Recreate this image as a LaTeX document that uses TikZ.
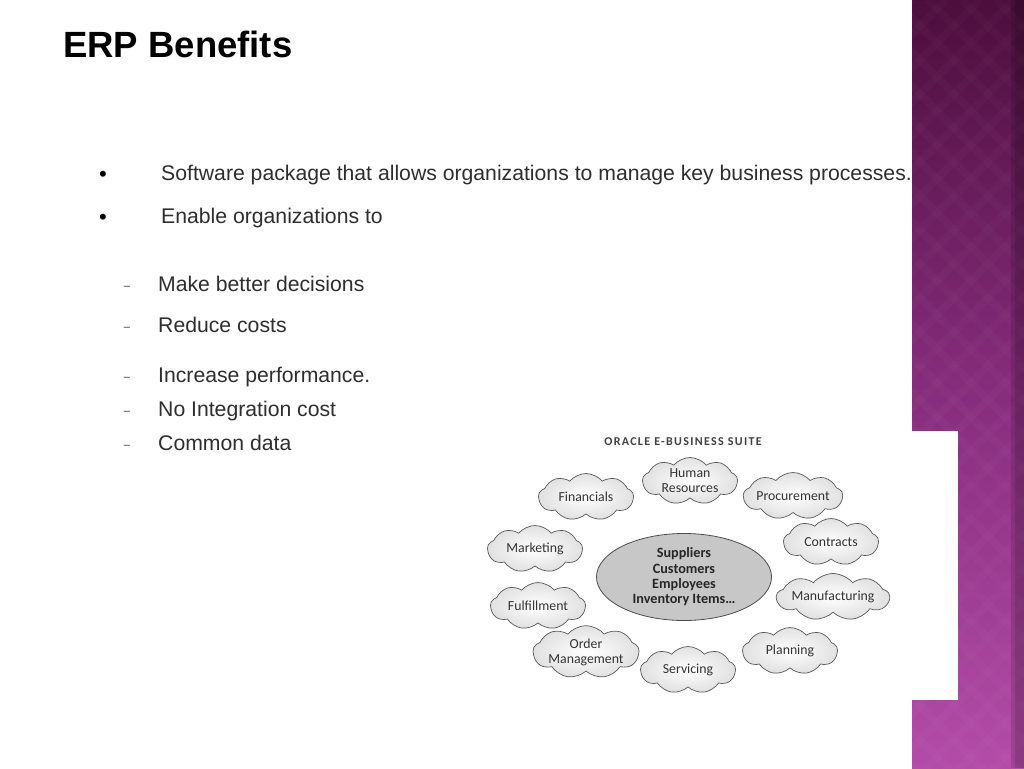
\documentclass[tikz,border=0pt]{standalone}
\usepackage{fontspec}
\setmainfont{Liberation Sans}
\newfontfamily\cloudfont{Carlito}
\usetikzlibrary{shapes.symbols,shapes.geometric}
\definecolor{txt}{HTML}{2E2E2E}
\definecolor{bandtop}{HTML}{4C0E3C}
\definecolor{bandmid}{HTML}{862C7C}
\definecolor{bandbot}{HTML}{B34CA8}
\definecolor{cloudtxt}{HTML}{333333}
\tikzset{
  bodytext/.style={anchor=base west, inner sep=0pt, text=txt, font=\fontsize{21.2}{24}\selectfont},
  bulletmark/.style={anchor=center, inner sep=0pt, text=black, font=\fontsize{22}{24}\selectfont},
  dashmark/.style={anchor=center, inner sep=0pt, text=txt, font=\fontsize{11}{12}\selectfont},
  cloudbox/.style={cloud, cloud puffs=9, cloud puff arc=100, cloud ignores aspect,
    minimum width=95pt, minimum height=47pt, inner sep=0pt,
    draw=black!65, line width=0.7pt, inner color=white, outer color=black!12,
    text=cloudtxt, align=center, font=\cloudfont\fontsize{13.8}{15}\selectfont},
}
\begin{document}
\begin{tikzpicture}[x=1pt,y=-1pt]
\useasboundingbox (0,0) rectangle (1024,768);
\fill[white] (0,0) rectangle (1024,768);
% purple band
\shade[top color=bandtop, bottom color=bandmid] (912,0) rectangle (1024,384);
\shade[top color=bandmid, bottom color=bandbot] (912,384) rectangle (1024,768);
\begin{scope}
\clip (912,0) rectangle (1024,768);
\foreach \k in {-40,...,60} {
  \draw[white, opacity=0.018, line width=8pt] (912+\k*34-800,0) -- (912+\k*34,800);
  \draw[white, opacity=0.018, line width=8pt] (912+\k*34,0) -- (912+\k*34-800,800);
}
\end{scope}
\fill[black, opacity=0.22] (1015,0) rectangle (1024,768);
\fill[black, opacity=0.12] (1011,0) rectangle (1015,768);
% title
\node[anchor=base west, inner sep=0pt, font=\bfseries\fontsize{36.5}{40}\selectfont] (title) at (63,57) {ERP Benefits};
% bullets
\node[bulletmark] (b1) at (103,176) {•};
\node[bodytext] (t1) at (161,180) {Software package that allows organizations to manage key business processes.};
\node[bulletmark] (b2) at (103,219) {•};
\node[bodytext] (t2) at (161,223) {Enable organizations to};
\node[dashmark] (d1) at (127,288) {–};
\node[bodytext] (s1) at (158,291.5) {Make better decisions};
\node[dashmark] (d2) at (127,329) {–};
\node[bodytext] (s2) at (158,332.5) {Reduce costs};
\node[dashmark] (d3) at (127,379) {–};
\node[bodytext] (s3) at (158,382.5) {Increase performance.};
\node[dashmark] (d4) at (127,413) {–};
\node[bodytext] (s4) at (158,416.5) {No Integration cost};
\node[dashmark] (d5) at (127,447) {–};
\node[bodytext] (s5) at (158,450.5) {Common data};
% white panel
\fill[white] (470,431) rectangle (958,700);
% Oracle diagram
\node[inner sep=0pt, text=black!75, font=\cloudfont\bfseries\fontsize{12}{12}\selectfont\addfontfeature{LetterSpace=11}] (suite) at (683,442) {ORACLE E-BUSINESS SUITE};
\node[ellipse, draw=black!70, line width=0.8pt, fill=black!22, minimum width=175pt, minimum height=87pt, inner sep=0pt,
  align=center, text=black!85, font=\cloudfont\bfseries\fontsize{14.2}{15.3}\selectfont] (core) at (684,577)
  {Suppliers\\Customers\\Employees\\Inventory Items\ldots};
\node[cloudbox] (fin) at (586,497) {Financials};
\node[cloudbox] (hr) at (690,481) {Human\\Resources};
\node[cloudbox] (proc) at (793,496) {Procurement};
\node[cloudbox] (con) at (831,542) {Contracts};
\node[cloudbox] (man) at (833,597) {Manufacturing};
\node[cloudbox] (plan) at (790,651) {Planning};
\node[cloudbox] (serv) at (688,670) {Servicing};
\node[cloudbox] (ord) at (586,652) {Order\\Management};
\node[cloudbox] (ful) at (538,606) {Fulfillment};
\node[cloudbox] (mkt) at (535,549) {Marketing};
\end{tikzpicture}
\end{document}
